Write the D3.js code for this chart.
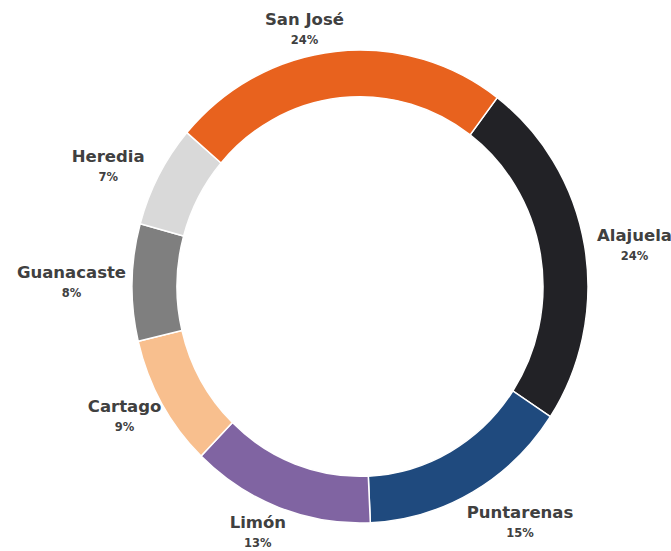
<!DOCTYPE html>
<html>
<head>
<meta charset="utf-8">
<script src="https://cdn.jsdelivr.net/npm/d3@7"></script>
<style>
  body { margin: 0; background: #fff; }
  text { font-family: "DejaVu Sans", sans-serif; font-weight: bold; fill: #404040; }
</style>
</head>
<body>
<script>
const provinces = ["Alajuela", "Puntarenas", "Limón", "Cartago", "Guanacaste", "Heredia", "San José"];
const shares = [24, 15, 13, 9, 8, 7, 24];
const colors = ["#222226", "#1f4a7e", "#8064a2", "#f8bf8e", "#7f7f7f", "#d9d9d9", "#e8621e"];

const width = 671;
const height = 551;
const cx = 360, cy = 286.5;
const outerR = 228, innerR = 183;
const yStretch = 236.5 / 228;
const start = 37 * Math.PI / 180;

// small hand nudges so labels land where the original layout put them
const labelNudge = {
    "San José": [-26, 2], "Heredia": [-13, 2], "Limón": [-9, 1],
    "Puntarenas": [18, 8], "Alajuela": [7, 2]
};

const svg = d3.select("body").append("svg")
    .attr("width", width)
    .attr("height", height);

const pie = d3.pie()
    .sort(null)
    .value(d => d)
    .startAngle(start)
    .endAngle(start + 2 * Math.PI);

const arcs = pie(shares);

const arc = d3.arc()
    .innerRadius(innerR)
    .outerRadius(outerR);

const ring = svg.append("g")
    .attr("transform", `translate(${cx},${cy}) scale(1,${yStretch})`);

ring.selectAll("path")
    .data(arcs)
    .enter()
    .append("path")
    .attr("d", arc)
    .attr("fill", (d, i) => colors[i])
    .attr("stroke", "#fff")
    .attr("stroke-width", 1.5)
    .attr("vector-effect", "non-scaling-stroke");

// labels sit just outside the ring, pushed out by half their box
const labels = svg.append("g");

arcs.forEach((d, i) => {
    const a = (d.startAngle + d.endAngle) / 2;
    const sx = Math.sin(a), sy = -Math.cos(a);
    const px = cx + sx * (outerR + 6);
    const py = cy + sy * (outerR + 6) * yStretch;

    const g = labels.append("g");
    g.append("text")
        .attr("text-anchor", "middle")
        .attr("font-size", "16.5px")
        .text(provinces[i]);
    g.append("text")
        .attr("text-anchor", "middle")
        .attr("font-size", "11.5px")
        .attr("y", 19)
        .text(shares[i] + "%");

    const bb = g.node().getBBox();
    const nudge = labelNudge[provinces[i]] || [0, 0];
    const bx = px + sx * bb.width / 2 + nudge[0];
    const by = py + sy * bb.height / 2 + nudge[1];
    g.attr("transform", `translate(${bx},${by - (bb.y + bb.height / 2)})`);
});
</script>
</body>
</html>
